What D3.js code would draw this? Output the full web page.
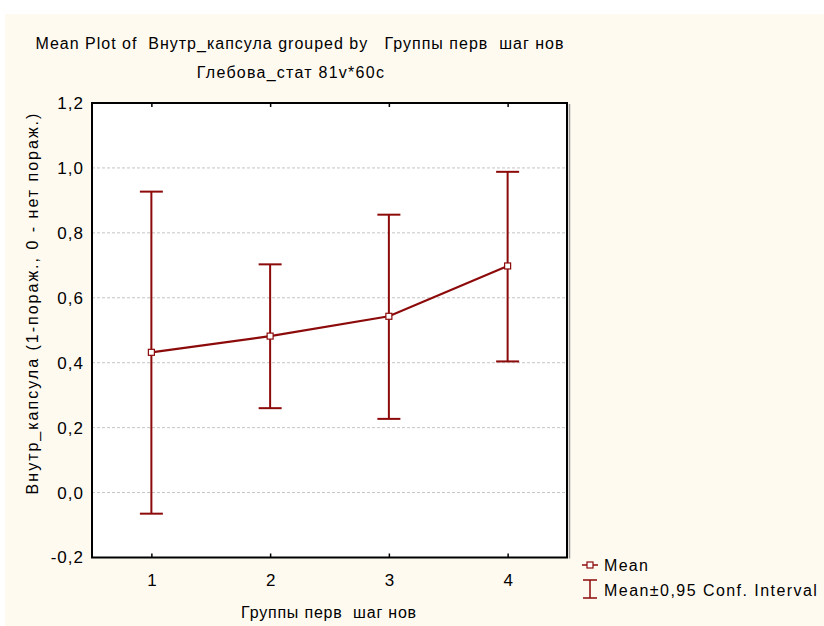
<!DOCTYPE html>
<html>
<head>
<meta charset="utf-8">
<script src="https://cdn.jsdelivr.net/npm/d3@7"></script>
<style>
  html, body { margin: 0; padding: 0; background: #ffffff; }
  svg text { font-family: "Liberation Sans", Arial, sans-serif; fill: #000; white-space: pre; }
</style>
</head>
<body>
<script>
// Groups along the x axis
const groups = [1, 2, 3, 4];
// Group means and 95% confidence bounds
const means = [0.432, 0.482, 0.543, 0.698];
const ciLower = [-0.065, 0.260, 0.227, 0.404];
const ciUpper = [0.927, 0.703, 0.856, 0.988];
// Y tick values and their labels (comma decimal)
const yTicks = [-0.2, 0.0, 0.2, 0.4, 0.6, 0.8, 1.0, 1.2];
const yTickLabels = ["-0,2", "0,0", "0,2", "0,4", "0,6", "0,8", "1,0", "1,2"];

const titleLine1 = "Mean Plot of  Внутр_капсула grouped by   Группы перв  шаг нов";
const titleLine2 = "Глебова_стат 81v*60c";
const xTitle = "Группы перв  шаг нов";
const yTitle = "Внутр_капсула (1-пораж., 0 - нет пораж.)";
const legendLabels = ["Mean", "Mean±0,95 Conf. Interval"];

const W = 824, H = 626;
const plot = { left: 92, right: 567, top: 103, bottom: 557.5 };
const red = "#8c0a0a";
const font = "Liberation Sans, Arial, sans-serif";

const svg = d3.select("body").append("svg")
  .attr("width", W).attr("height", H);

// cream panel behind the chart
svg.append("rect").attr("x", 5).attr("y", 14).attr("width", W - 5).attr("height", H - 14)
  .attr("fill", "#fffaf0");

const x = d3.scaleLinear().domain([0.5, 4.5]).range([plot.left, plot.right]);
const y = d3.scaleLinear().domain([-0.2, 1.2]).range([plot.bottom, plot.top]);

// plot area
svg.append("rect")
  .attr("x", plot.left).attr("y", plot.top)
  .attr("width", plot.right - plot.left).attr("height", plot.bottom - plot.top)
  .attr("fill", "#ffffff");

// horizontal dashed gridlines
svg.append("g").selectAll("line")
  .data(yTicks.filter(v => v > -0.2 && v < 1.2))
  .join("line")
  .attr("x1", plot.left).attr("x2", plot.right)
  .attr("y1", d => y(d)).attr("y2", d => y(d))
  .attr("stroke", "#c4c4c4").attr("stroke-width", 1)
  .attr("stroke-dasharray", "3,2");

// Y axis labels
const yAxis = d3.axisLeft(y).tickValues(yTicks)
  .tickFormat((d, i) => yTickLabels[i]).tickSize(0).tickPadding(8);
const gy = svg.append("g").attr("transform", `translate(${plot.left},0)`).call(yAxis);
gy.select(".domain").remove();
gy.selectAll("text").style("font-size", "17px").style("font-family", font)
  .style("letter-spacing", "1px");

// X axis labels with inward ticks
const xAxis = d3.axisBottom(x).tickValues(groups).tickFormat(d3.format("d"))
  .tickSizeInner(-4).tickSizeOuter(0).tickPadding(16);
const gx = svg.append("g").attr("transform", `translate(0,${plot.bottom})`).call(xAxis);
gx.select(".domain").remove();
gx.selectAll("line").attr("stroke", "#000").attr("stroke-width", 1.5);
gx.selectAll("text").style("font-size", "17px").style("font-family", font);

// top inward ticks
const xTop = d3.axisTop(x).tickValues(groups).tickFormat("").tickSizeInner(-4).tickSizeOuter(0);
const gxt = svg.append("g").attr("transform", `translate(0,${plot.top})`).call(xTop);
gxt.select(".domain").remove();
gxt.selectAll("line").attr("stroke", "#000").attr("stroke-width", 1.5);

// frame with a soft shadow on the right
svg.append("line")
  .attr("x1", plot.right + 2.5).attr("x2", plot.right + 2.5)
  .attr("y1", plot.top + 1).attr("y2", plot.bottom + 1)
  .attr("stroke", "#9a9a9a").attr("stroke-width", 1.5);
svg.append("rect")
  .attr("x", plot.left).attr("y", plot.top)
  .attr("width", plot.right - plot.left).attr("height", plot.bottom - plot.top)
  .attr("fill", "none").attr("stroke", "#000").attr("stroke-width", 2);

// confidence interval whiskers
const capHalf = 11.5;
const ci = svg.append("g").attr("stroke", red).attr("stroke-width", 2).attr("fill", "none");
groups.forEach((g, i) => {
  const cx = x(g);
  ci.append("line").attr("x1", cx).attr("x2", cx)
    .attr("y1", y(ciLower[i])).attr("y2", y(ciUpper[i]));
  ci.append("line").attr("x1", cx - capHalf).attr("x2", cx + capHalf)
    .attr("y1", y(ciUpper[i])).attr("y2", y(ciUpper[i]));
  ci.append("line").attr("x1", cx - capHalf).attr("x2", cx + capHalf)
    .attr("y1", y(ciLower[i])).attr("y2", y(ciLower[i]));
});

// mean line
const line = d3.line().x((d, i) => x(groups[i])).y(d => y(d));
svg.append("path").datum(means)
  .attr("d", line).attr("fill", "none")
  .attr("stroke", red).attr("stroke-width", 2.2);

// mean markers
const ms = 6;
svg.append("g").selectAll("rect").data(means).join("rect")
  .attr("x", (d, i) => x(groups[i]) - ms / 2)
  .attr("y", d => y(d) - ms / 2)
  .attr("width", ms).attr("height", ms)
  .attr("fill", "#fff").attr("stroke", red).attr("stroke-width", 1.2);

// titles
function label(txt, xPos, yPos, spacing, anchor) {
  return svg.append("text").attr("x", xPos).attr("y", yPos)
    .attr("text-anchor", anchor || "middle")
    .style("font-size", "16px").style("letter-spacing", spacing + "px").text(txt);
}
label(titleLine1, 300, 49, 1.0);
label(titleLine2, 291, 78, 1.25);
label(xTitle, 329, 618, 0.8);
svg.append("text")
  .attr("transform", "translate(38,303) rotate(-90)")
  .attr("text-anchor", "middle")
  .style("font-size", "16px").style("letter-spacing", "2px").text(yTitle);

// legend
const lg = svg.append("g");
const lx = 590;
lg.append("line").attr("x1", lx - 8).attr("x2", lx + 8).attr("y1", 565).attr("y2", 565)
  .attr("stroke", red).attr("stroke-width", 1.5);
lg.append("rect").attr("x", lx - 3).attr("y", 562).attr("width", 6).attr("height", 6)
  .attr("fill", "#fff").attr("stroke", red).attr("stroke-width", 1.2);
label(legendLabels[0], 604, 571, 1.3, "start");
const iy1 = 580, iy2 = 598;
lg.append("line").attr("x1", lx).attr("x2", lx).attr("y1", iy1).attr("y2", iy2)
  .attr("stroke", red).attr("stroke-width", 1.5);
lg.append("line").attr("x1", lx - 7).attr("x2", lx + 7).attr("y1", iy1).attr("y2", iy1)
  .attr("stroke", red).attr("stroke-width", 1.5);
lg.append("line").attr("x1", lx - 7).attr("x2", lx + 7).attr("y1", iy2).attr("y2", iy2)
  .attr("stroke", red).attr("stroke-width", 1.5);
label(legendLabels[1], 604, 596, 1.45, "start");
</script>
</body>
</html>
